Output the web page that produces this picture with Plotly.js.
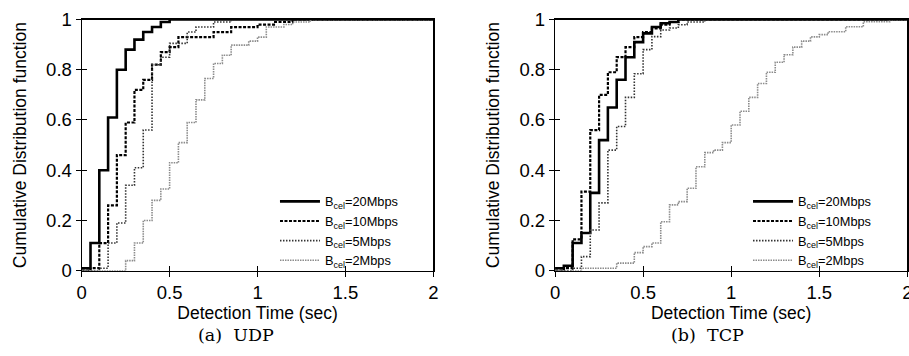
<!DOCTYPE html>
<html>
<head>
<meta charset="utf-8">
<script src="https://cdn.plot.ly/plotly-3.0.1.min.js"></script>
<style>html,body{margin:0;padding:0;background:#fff;}#chart{width:909px;height:356px;}</style>
</head>
<body>
<div id="chart"></div>
<script>
// ---- data (detection time in sec, CDF) ----
var seriesNames = ['B<sub>cel</sub>=20Mbps', 'B<sub>cel</sub>=10Mbps', 'B<sub>cel</sub>=5Mbps', 'B<sub>cel</sub>=2Mbps'];
var xTicks = [0, 0.5, 1, 1.5, 2];
var yTicks = [0, 0.2, 0.4, 0.6, 0.8, 1];

// (a) UDP
var udp20X = [0, 0.05, 0.10, 0.15, 0.20, 0.25, 0.30, 0.35, 0.40, 0.45, 0.50, 2.0];
var udp20Y = [0.01, 0.11, 0.40, 0.61, 0.80, 0.88, 0.92, 0.95, 0.97, 0.99, 1.0, 1.0];
var udp10X = [0, 0.05, 0.10, 0.15, 0.20, 0.25, 0.30, 0.35, 0.40, 0.45, 0.50, 0.55, 0.75, 0.85, 1.00, 1.10, 1.20, 2.0];
var udp10Y = [0, 0.01, 0.11, 0.26, 0.46, 0.59, 0.72, 0.76, 0.82, 0.87, 0.89, 0.93, 0.95, 0.97, 0.98, 0.99, 1.0, 1.0];
var udp5X  = [0, 0.10, 0.15, 0.20, 0.25, 0.30, 0.35, 0.40, 0.45, 0.50, 0.60, 0.65, 0.75, 0.85, 2.0];
var udp5Y  = [0, 0.01, 0.11, 0.19, 0.34, 0.41, 0.56, 0.82, 0.85, 0.905, 0.95, 0.97, 0.99, 1.0, 1.0];
var udp2X  = [0, 0.25, 0.30, 0.35, 0.40, 0.45, 0.50, 0.55, 0.60, 0.65, 0.70, 0.75, 0.80, 0.85, 0.95, 1.00, 1.05, 1.15, 1.20, 1.30, 2.0];
var udp2Y  = [0, 0.04, 0.11, 0.20, 0.28, 0.325, 0.43, 0.51, 0.59, 0.68, 0.765, 0.825, 0.858, 0.898, 0.914, 0.93, 0.97, 0.98, 0.99, 1.0, 1.0];

// (b) TCP
var tcp20X = [0, 0.05, 0.10, 0.15, 0.20, 0.25, 0.30, 0.35, 0.40, 0.45, 0.50, 0.55, 0.60, 0.65, 0.70, 2.0];
var tcp20Y = [0.01, 0.02, 0.11, 0.15, 0.31, 0.52, 0.65, 0.76, 0.85, 0.91, 0.945, 0.97, 0.985, 0.99, 1.0, 1.0];
var tcp10X = [0, 0.05, 0.10, 0.15, 0.20, 0.25, 0.30, 0.35, 0.40, 0.45, 0.50, 0.55, 0.60, 0.65, 0.70, 2.0];
var tcp10Y = [0, 0.01, 0.125, 0.315, 0.56, 0.70, 0.79, 0.85, 0.89, 0.93, 0.95, 0.965, 0.98, 0.99, 1.0, 1.0];
var tcp5X  = [0, 0.10, 0.15, 0.20, 0.25, 0.30, 0.35, 0.40, 0.45, 0.50, 0.55, 0.60, 0.65, 0.70, 0.75, 0.85, 2.0];
var tcp5Y  = [0, 0.01, 0.056, 0.162, 0.27, 0.48, 0.574, 0.69, 0.784, 0.88, 0.932, 0.958, 0.966, 0.979, 0.99, 1.0, 1.0];
var tcp2X  = [0, 0.15, 0.35, 0.45, 0.50, 0.55, 0.60, 0.65, 0.70, 0.75, 0.80, 0.85, 0.90, 0.95, 1.00, 1.05, 1.10, 1.15, 1.20, 1.25, 1.30, 1.35, 1.40, 1.45, 1.50, 1.55, 1.65, 1.75, 1.90, 2.0];
var tcp2Y  = [0, 0.01, 0.03, 0.072, 0.096, 0.11, 0.195, 0.262, 0.275, 0.328, 0.414, 0.47, 0.48, 0.51, 0.58, 0.635, 0.69, 0.745, 0.79, 0.83, 0.86, 0.89, 0.914, 0.931, 0.94, 0.951, 0.971, 0.991, 1.0, 1.0];

var captions = ['(a)&nbsp;&nbsp;UDP', '(b)&nbsp;&nbsp;TCP'];
var xTitle = 'Detection Time (sec)';
var yTitle = 'Cumulative Distribution function';

// ---- styles ----
var styles = [
  {color: '#000000', width: 2.6, dash: 'solid'},
  {color: '#000000', width: 2.2, dash: '3px,1.5px'},
  {color: '#333333', width: 1.6, dash: '1.5px,1.5px'},
  {color: '#8c8c8c', width: 1.6, dash: '1.5px,1px'}
];
var SANS = 'Liberation Sans, Arial, Helvetica, sans-serif';

function mk(x, y, i, xa, ya, leg) {
  return {x: x, y: y, type: 'scatter', mode: 'lines', name: seriesNames[i],
    xaxis: xa, yaxis: ya, legend: leg, line: {shape: 'hv', color: styles[i].color, width: styles[i].width, dash: styles[i].dash},
    hoverinfo: 'skip', cliponaxis: true};
}
var traces = [
  mk(udp20X, udp20Y, 0, 'x', 'y', 'legend'),
  mk(udp10X, udp10Y, 1, 'x', 'y', 'legend'),
  mk(udp5X, udp5Y, 2, 'x', 'y', 'legend'),
  mk(udp2X, udp2Y, 3, 'x', 'y', 'legend'),
  mk(tcp20X, tcp20Y, 0, 'x2', 'y2', 'legend2'),
  mk(tcp10X, tcp10Y, 1, 'x2', 'y2', 'legend2'),
  mk(tcp5X, tcp5Y, 2, 'x2', 'y2', 'legend2'),
  mk(tcp2X, tcp2Y, 3, 'x2', 'y2', 'legend2'),
  // empty traces to activate inner tick overlays
  {x: [], y: [], xaxis: 'x3', yaxis: 'y3', showlegend: false, type: 'scatter'},
  {x: [], y: [], xaxis: 'x4', yaxis: 'y4', showlegend: false, type: 'scatter'}
];

var dom1 = [0.0899, 0.4767], dom2 = [0.6106, 0.9982], ydom = [0.2396, 0.9452];
function xax(dom, anchor) {
  return {domain: dom, anchor: anchor, range: [0, 2], tickvals: xTicks, ticktext: xTicks.map(String),
    ticks: 'outside', ticklen: 5, tickwidth: 1, tickcolor: '#000', showline: true, mirror: true,
    linecolor: '#000', linewidth: 1.2, showgrid: false, zeroline: false, ticklabeloverflow: 'allow',
    tickfont: {family: SANS, size: 18.5, color: '#000'},
    title: {text: xTitle, font: {family: SANS, size: 17.5, color: '#000'}, standoff: 0}};
}
function yax(anchor) {
  return {domain: ydom, anchor: anchor, range: [0, 1], tickvals: yTicks, ticktext: yTicks.map(String),
    ticks: 'outside', ticklen: 5, tickwidth: 1, tickcolor: '#000', showline: true, mirror: true,
    linecolor: '#000', linewidth: 1.2, showgrid: false, zeroline: false,
    tickfont: {family: SANS, size: 18.5, color: '#000'},
    title: {text: yTitle, font: {family: SANS, size: 17.5, color: '#000'}, standoff: 15}};
}
function innerX(over, anchor) {
  return {overlaying: over, anchor: anchor, range: [0, 2], tickvals: xTicks, ticks: 'inside', ticklen: 5,
    tickwidth: 1, tickcolor: '#000', showticklabels: false, showline: false, showgrid: false, zeroline: false};
}
function innerY(over, anchor) {
  return {overlaying: over, anchor: anchor, range: [0, 1], tickvals: yTicks, ticks: 'inside', ticklen: 5,
    tickwidth: 1, tickcolor: '#000', showticklabels: false, showline: false, showgrid: false, zeroline: false};
}
function leg(x) {
  return {x: x, xanchor: 'left', y: 0.226, yanchor: 'bottom', bgcolor: 'rgba(0,0,0,0)', borderwidth: 0,
    itemwidth: 40, tracegroupgap: 0, font: {family: SANS, size: 12.8, color: '#000'}, traceorder: 'normal'};
}

var layout = {
  width: 909, height: 356, margin: {l: 0, r: 0, t: 0, b: 0},
  paper_bgcolor: '#fff', plot_bgcolor: '#fff', showlegend: true,
  xaxis: xax(dom1, 'y'), yaxis: yax('x'),
  xaxis2: xax(dom2, 'y2'), yaxis2: yax('x2'),
  xaxis3: innerX('x', 'y3'), yaxis3: innerY('y', 'x3'),
  xaxis4: innerX('x2', 'y4'), yaxis4: innerY('y2', 'x4'),
  legend: leg(0.3025),
  legend2: leg(0.8229),
  annotations: [
    {text: captions[0], xref: 'paper', yref: 'paper', x: 0.2596, y: 0.058, xanchor: 'center', yanchor: 'middle', showarrow: false,
     font: {family: 'DejaVu Serif, Liberation Serif, serif', size: 17.5, color: '#000'}},
    {text: captions[1], xref: 'paper', yref: 'paper', x: 0.7783, y: 0.058, xanchor: 'center', yanchor: 'middle', showarrow: false,
     font: {family: 'DejaVu Serif, Liberation Serif, serif', size: 17.5, color: '#000'}}
  ]
};
Plotly.newPlot('chart', traces, layout, {staticPlot: true, displayModeBar: false});
</script>
</body>
</html>
